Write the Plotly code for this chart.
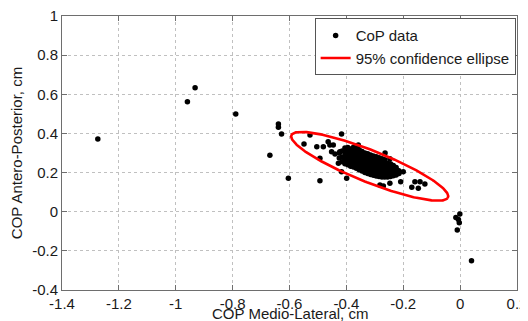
import numpy as np
import plotly.graph_objects as go

# ---- scattered CoP samples (outside the dense core) ----
outlier_x = [-1.274, -0.959, -0.932, -0.789, -0.669, -0.639, -0.639, -0.628, -0.604,
             -0.549, -0.528, -0.504, -0.493, -0.493, -0.481, -0.464, -0.458, -0.446,
             -0.452, -0.423, -0.417, -0.417, -0.428, -0.399, -0.440, -0.270, -0.264,
             -0.247, -0.282, -0.217, -0.200, -0.209, -0.247, -0.159, -0.141, -0.124,
             -0.170, -0.147, -0.358,
             -0.015, -0.001, -0.003, -0.010, -0.006, 0.040]
outlier_y = [0.372, 0.562, 0.634, 0.499, 0.288, 0.448, 0.431, 0.397, 0.171,
             0.346, 0.392, 0.332, 0.273, 0.158, 0.332, 0.358, 0.341, 0.341,
             0.307, 0.307, 0.397, 0.204, 0.247, 0.171, 0.295, 0.131, 0.300,
             0.270, 0.136, 0.209, 0.204, 0.153, 0.145, 0.153, 0.153, 0.142,
             0.125, 0.120, 0.341,
             -0.029, -0.012, -0.056, -0.093, -0.040, -0.250]

# ---- dense core of CoP samples, listed column by column (x: its y values) ----
core_columns = {
    -0.425: [0.275, 0.300],
    -0.415: [0.255, 0.280, 0.310],
    -0.405: [0.245, 0.262, 0.285, 0.305, 0.325],
    -0.395: [0.240, 0.258, 0.275, 0.292, 0.310, 0.328],
    -0.385: [0.232, 0.250, 0.268, 0.285, 0.302, 0.320],
    -0.375: [0.228, 0.245, 0.262, 0.279, 0.296, 0.313, 0.330],
    -0.365: [0.222, 0.239, 0.256, 0.273, 0.290, 0.307, 0.324],
    -0.355: [0.215, 0.232, 0.249, 0.266, 0.283, 0.300, 0.316],
    -0.345: [0.208, 0.225, 0.242, 0.259, 0.276, 0.293, 0.308],
    -0.335: [0.200, 0.217, 0.234, 0.251, 0.268, 0.285, 0.300],
    -0.325: [0.195, 0.212, 0.229, 0.246, 0.263, 0.280, 0.296],
    -0.315: [0.190, 0.207, 0.224, 0.241, 0.258, 0.275, 0.290],
    -0.305: [0.186, 0.203, 0.220, 0.237, 0.254, 0.270, 0.285],
    -0.295: [0.182, 0.199, 0.216, 0.233, 0.250, 0.266, 0.281],
    -0.285: [0.180, 0.196, 0.212, 0.229, 0.246, 0.262, 0.276],
    -0.275: [0.178, 0.193, 0.209, 0.225, 0.241, 0.257, 0.270],
    -0.265: [0.177, 0.192, 0.207, 0.222, 0.237, 0.252, 0.265],
    -0.255: [0.178, 0.192, 0.206, 0.220, 0.234, 0.248],
    -0.245: [0.180, 0.194, 0.207, 0.220, 0.233, 0.245],
    -0.235: [0.184, 0.197, 0.210, 0.223, 0.236],
    -0.225: [0.188, 0.201, 0.214, 0.226],
    -0.215: [0.195, 0.208],
}

# ---- 95% confidence ellipse parameters ----
ellipse_center = (-0.318, 0.232)
ellipse_semi_major = 0.3186
ellipse_semi_minor = 0.0754
ellipse_angle_deg = -30.9

# ---- axis ticks and titles ----
x_ticks = [-1.4, -1.2, -1.0, -0.8, -0.6, -0.4, -0.2, 0.0, 0.2]
x_tick_labels = ["-1.4", "-1.2", "-1", "-0.8", "-0.6", "-0.4", "-0.2", "0", "0.2"]
y_ticks = [-0.4, -0.2, 0.0, 0.2, 0.4, 0.6, 0.8, 1.0]
y_tick_labels = ["-0.4", "-0.2", "0", "0.2", "0.4", "0.6", "0.8", "1"]
x_title = "COP Medio-Lateral, cm"
y_title = "COP Antero-Posterior, cm"

# assemble the data
cop_x = list(outlier_x)
cop_y = list(outlier_y)
for cx, ys in core_columns.items():
    for yv in ys:
        cop_x.append(cx)
        cop_y.append(yv)

t = np.linspace(0, 2 * np.pi, 241)
th = np.deg2rad(ellipse_angle_deg)
ex = (ellipse_center[0] + ellipse_semi_major * np.cos(t) * np.cos(th)
      - ellipse_semi_minor * np.sin(t) * np.sin(th))
ey = (ellipse_center[1] + ellipse_semi_major * np.cos(t) * np.sin(th)
      + ellipse_semi_minor * np.sin(t) * np.cos(th))

FONT = "Liberation Sans, Arial, Helvetica, sans-serif"
TXT = "#1a1a1a"

fig = go.Figure()
fig.add_trace(go.Scatter(
    x=cop_x, y=cop_y, mode="markers", name="CoP data",
    marker=dict(color="black", size=5.5, line=dict(width=0)),
))
fig.add_trace(go.Scatter(
    x=ex, y=ey, mode="lines", name="95% confidence ellipse",
    line=dict(color="#ff0000", width=2.6),
))

axis_common = dict(
    showline=True, linecolor="#6e6e6e", linewidth=1, mirror="allticks",
    ticks="inside", ticklen=5, tickcolor="#6e6e6e",
    showgrid=True, gridcolor="#c0c0c0", griddash="dot", gridwidth=1,
    zeroline=False, tickfont=dict(family=FONT, size=15, color=TXT),
    ticklabeloverflow="allow",
)

fig.update_xaxes(
    range=[-1.4, 0.2], tickmode="array", tickvals=x_ticks, ticktext=x_tick_labels,
    **axis_common,
)
fig.update_yaxes(
    range=[-0.4, 1.0], tickmode="array", tickvals=y_ticks, ticktext=y_tick_labels,
    title=dict(text=y_title, font=dict(family=FONT, size=15, color=TXT), standoff=5),
    **axis_common,
)

fig.add_annotation(
    text=x_title, xref="paper", yref="paper", x=0.5, y=-0.0858,
    xanchor="center", yanchor="middle", showarrow=False,
    font=dict(family=FONT, size=15, color=TXT),
)

# the page body adds an 8px margin; size and margins compensate for it
fig.update_layout(
    width=520, height=313,
    margin=dict(l=54, r=11, t=8, b=31, autoexpand=False),
    paper_bgcolor="white", plot_bgcolor="white",
    showlegend=True,
    legend=dict(
        x=0.997, y=0.992, xanchor="right", yanchor="top",
        bgcolor="white", bordercolor="#555555", borderwidth=1,
        font=dict(family=FONT, size=15, color=TXT),
        tracegroupgap=0, itemwidth=30,
    ),
    font=dict(family=FONT, size=15, color=TXT),
)

fig.write_html("out.html")
